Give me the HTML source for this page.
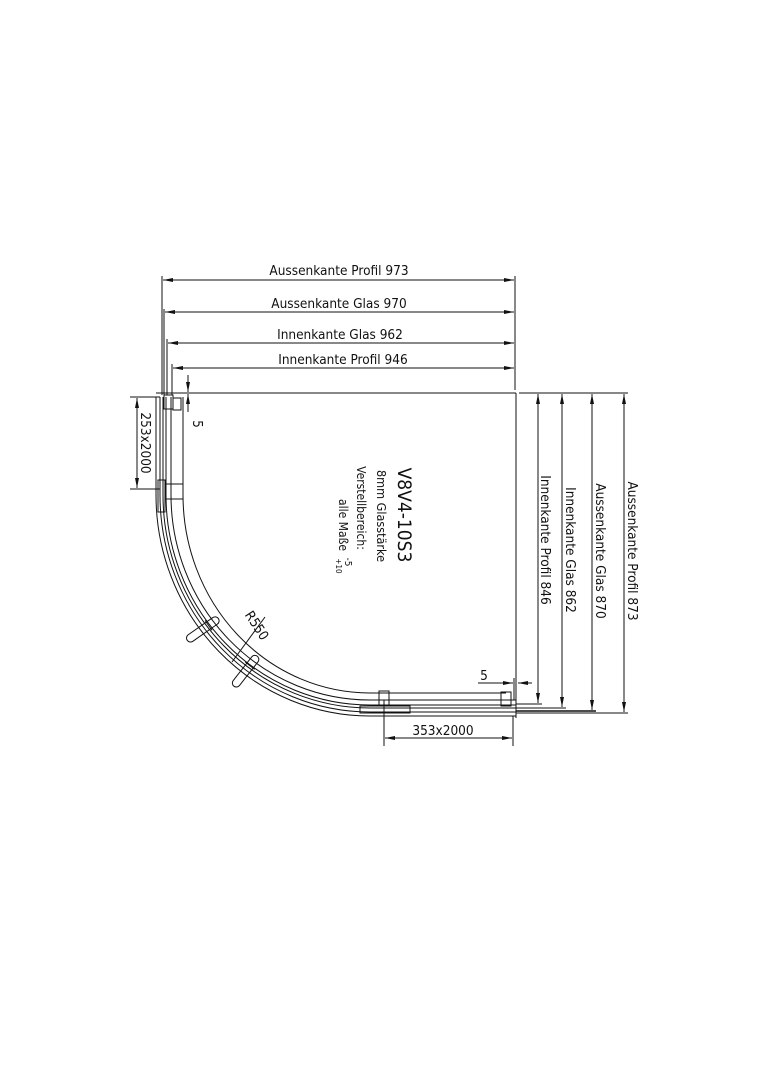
<!DOCTYPE html>
<html><head><meta charset="utf-8"><style>html,body{margin:0;padding:0;background:#fff}svg{display:block}text{font-family:"DejaVu Sans Condensed","DejaVu Sans","Liberation Sans",sans-serif;fill:#111}</style></head><body>
<svg width="763" height="1080" viewBox="0 0 763 1080" xmlns="http://www.w3.org/2000/svg">
<defs>
<marker id="a" viewBox="0 0 10 6" refX="10" refY="3" markerWidth="10" markerHeight="6" orient="auto-start-reverse" markerUnits="userSpaceOnUse"><path d="M0,1 L10,3 L0,5 z" fill="#111"/></marker>
</defs>
<g stroke="#111" stroke-width="1" fill="none">
<line x1="162" y1="276" x2="162" y2="395"/>
<line x1="515" y1="276" x2="515" y2="390"/>
<line x1="164" y1="309" x2="164" y2="395"/>
<line x1="167" y1="339" x2="167" y2="395"/>
<line x1="172" y1="364" x2="172" y2="395"/>
<line x1="163" y1="280" x2="514" y2="280" marker-start="url(#a)" marker-end="url(#a)"/>
<line x1="165" y1="312" x2="514" y2="312" marker-start="url(#a)" marker-end="url(#a)"/>
<line x1="168" y1="343" x2="514" y2="343" marker-start="url(#a)" marker-end="url(#a)"/>
<line x1="173" y1="368" x2="514" y2="368" marker-start="url(#a)" marker-end="url(#a)"/>
<line x1="156" y1="393" x2="516" y2="393"/>
<line x1="516" y1="393" x2="516" y2="718"/>
<line x1="519" y1="393" x2="628" y2="393"/>
<line x1="516" y1="704" x2="542" y2="704"/>
<line x1="516" y1="708" x2="566" y2="708"/>
<line x1="516" y1="711" x2="596" y2="711" stroke-width="1.5"/>
<line x1="516" y1="713" x2="628" y2="713"/>
<line x1="538" y1="394" x2="538" y2="703" marker-start="url(#a)" marker-end="url(#a)"/>
<line x1="562" y1="394" x2="562" y2="707" marker-start="url(#a)" marker-end="url(#a)"/>
<line x1="592" y1="394" x2="592" y2="710" marker-start="url(#a)" marker-end="url(#a)"/>
<line x1="624" y1="394" x2="624" y2="712" marker-start="url(#a)" marker-end="url(#a)"/>
<path d="M156,397 L156,495 A214,221 0 0 0 370,716 L516,716"/>
<path d="M160,397 L160,495 A210,217 0 0 0 370,712 L516,712"/>
<path d="M163,397 L163,495 A207,213 0 0 0 370,708 L516,708"/>
<path d="M166,397 L166,495 A204,210 0 0 0 370,705 L516,705"/>
<path d="M171,397 L171,495 A199,205 0 0 0 370,700 L516,700"/>
<path d="M183,397 L183,495 A187,198 0 0 0 370,693 L506,693"/>
<rect x="164" y="395" width="9" height="14"/><rect x="173" y="398" width="8" height="12"/>
<rect x="158" y="480" width="7" height="32"/><rect x="165" y="484" width="18" height="15"/>
<rect x="379" y="691" width="10" height="15"/>
<rect x="360" y="706" width="50" height="7"/>
<rect x="501" y="692" width="10" height="14"/>
<g transform="translate(202,630) rotate(-35)"><rect x="-18" y="-4" width="38" height="8" rx="4"/><line x1="8" y1="-6" x2="8" y2="6"/></g>
<g transform="translate(245,672) rotate(-52)"><rect x="-18" y="-4" width="38" height="8" rx="4"/><line x1="8" y1="-6" x2="8" y2="6"/></g>
<line x1="130" y1="397" x2="160" y2="397"/>
<line x1="130" y1="489" x2="160" y2="489"/>
<line x1="137" y1="398" x2="137" y2="488" marker-start="url(#a)" marker-end="url(#a)"/>
<line x1="188" y1="375" x2="188" y2="392" marker-end="url(#a)"/>
<line x1="188" y1="412" x2="188" y2="394" marker-end="url(#a)"/>
<line x1="478" y1="683" x2="513" y2="683" marker-end="url(#a)"/>
<line x1="532" y1="683" x2="518" y2="683" marker-end="url(#a)"/>
<line x1="514" y1="678" x2="514" y2="700"/>
<line x1="384" y1="700" x2="384" y2="746"/>
<line x1="513" y1="716" x2="513" y2="746"/>
<line x1="385" y1="738" x2="512" y2="738" marker-start="url(#a)" marker-end="url(#a)"/>
<line x1="265" y1="617" x2="232" y2="662"/>
</g>
<g font-size="13.5">
<text x="339" y="275" text-anchor="middle">Aussenkante Profil 973</text>
<text x="339" y="308" text-anchor="middle">Aussenkante Glas 970</text>
<text x="340" y="339" text-anchor="middle">Innenkante Glas 962</text>
<text x="343" y="364" text-anchor="middle">Innenkante Profil 946</text>
<text transform="translate(541,540) rotate(90)" text-anchor="middle">Innenkante Profil 846</text>
<text transform="translate(566,550) rotate(90)" text-anchor="middle">Innenkante Glas 862</text>
<text transform="translate(596,551) rotate(90)" text-anchor="middle">Aussenkante Glas 870</text>
<text transform="translate(628,551) rotate(90)" text-anchor="middle">Aussenkante Profil 873</text>
<text transform="translate(141,443) rotate(90)" text-anchor="middle">253x2000</text>
<text x="443" y="735" text-anchor="middle">353x2000</text>
<text transform="translate(193,424) rotate(90)" text-anchor="middle">5</text>
<text x="484" y="680" text-anchor="middle">5</text>
<text transform="translate(253,628) rotate(57)" text-anchor="middle">R550</text>
</g>
<text transform="translate(398,515) rotate(90)" text-anchor="middle" font-size="19">V8V4-10S3</text>
<text transform="translate(377,516) rotate(90)" text-anchor="middle" font-size="12.5">8mm Glasstärke</text>
<text transform="translate(357,508) rotate(90)" text-anchor="middle" font-size="12">Verstellbereich:</text>
<text transform="translate(339,525) rotate(90)" text-anchor="middle" font-size="12">alle Maße</text>
<text transform="translate(345,562) rotate(90)" text-anchor="middle" font-size="10">-5</text>
<text transform="translate(336,566) rotate(90)" text-anchor="middle" font-size="8">+10</text>
</svg>
</body></html>
